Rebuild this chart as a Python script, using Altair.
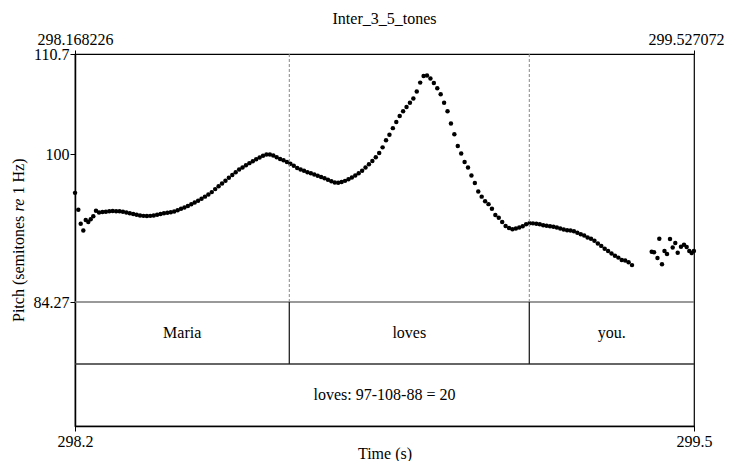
import altair as alt
import pandas as pd

# ------------------------------------------------------------------ data
TITLE = "Inter_3_5_tones"
T_START = 298.168226
T_END = 299.527072
PITCH_TOP = 110.7
PITCH_BOTTOM = 84.27
Y_TICKS = [84.27, 100, 110.7]

# initial (irregular) pitch points
lead_times = [298.1683, 298.1755, 298.1808, 298.1865, 298.1918, 298.1974,
              298.2027, 298.2084, 298.2143]
lead_pitch = [95.9, 94.1, 92.6, 91.9, 93.0, 92.8, 93.1, 93.4, 94.0]

# main voiced stretch
main_times = [
    298.2210, 298.2285, 298.2360, 298.2435, 298.2510, 298.2585, 298.2660, 298.2735, 298.2810, 298.2885,
    298.2960, 298.3035, 298.3110, 298.3185, 298.3260, 298.3335, 298.3410, 298.3485, 298.3560, 298.3635,
    298.3710, 298.3785, 298.3860, 298.3935, 298.4010, 298.4085, 298.4160, 298.4235, 298.4310, 298.4385,
    298.4460, 298.4535, 298.4610, 298.4685, 298.4760, 298.4835, 298.4910, 298.4985, 298.5060, 298.5135,
    298.5210, 298.5285, 298.5360, 298.5435, 298.5510, 298.5585, 298.5660, 298.5735, 298.5810, 298.5885,
    298.5960, 298.6035, 298.6110, 298.6185, 298.6260, 298.6335, 298.6410, 298.6485, 298.6560, 298.6635,
    298.6710, 298.6785, 298.6860, 298.6935, 298.7010, 298.7085, 298.7160, 298.7235, 298.7310, 298.7385,
    298.7460, 298.7535, 298.7610, 298.7685, 298.7760, 298.7835, 298.7910, 298.7985, 298.8060, 298.8135,
    298.8210, 298.8285, 298.8360, 298.8435, 298.8510, 298.8585, 298.8660, 298.8735, 298.8810, 298.8885,
    298.8960, 298.9035, 298.9110, 298.9185, 298.9260, 298.9335, 298.9410, 298.9485, 298.9560, 298.9635,
    298.9710, 298.9785, 298.9860, 298.9935, 299.0010, 299.0085, 299.0160, 299.0235, 299.0310, 299.0385,
    299.0460, 299.0535, 299.0610, 299.0685, 299.0760, 299.0835, 299.0910, 299.0985, 299.1060, 299.1135,
    299.1210, 299.1285, 299.1360, 299.1435, 299.1510, 299.1585, 299.1660, 299.1735, 299.1810, 299.1885,
    299.1960, 299.2035, 299.2110, 299.2185, 299.2260, 299.2335, 299.2410, 299.2485, 299.2560, 299.2635,
    299.2710, 299.2785, 299.2860, 299.2935, 299.3010, 299.3085, 299.3160, 299.3235, 299.3310, 299.3385,
    299.3460, 299.3535, 299.3610, 299.3685, 299.3760, 299.3835, 299.3910,
]
main_pitch = [
    93.8, 93.85, 93.9, 93.95, 93.97, 93.95, 93.93, 93.9, 93.82, 93.74,
    93.66, 93.58, 93.5, 93.45, 93.43, 93.45, 93.5, 93.58, 93.65, 93.72,
    93.78, 93.84, 93.92, 94.05, 94.2, 94.35, 94.5, 94.68, 94.87, 95.05,
    95.28, 95.5, 95.73, 95.98, 96.3, 96.6, 96.9, 97.2, 97.5, 97.8,
    98.1, 98.38, 98.6, 98.85, 99.07, 99.28, 99.48, 99.68, 99.85, 99.98,
    100.0, 99.88, 99.7, 99.52, 99.38, 99.2, 99.0, 98.78, 98.55, 98.4,
    98.25, 98.1, 97.98, 97.85, 97.73, 97.6, 97.45, 97.3, 97.15, 97.0,
    96.98, 97.05, 97.18, 97.35, 97.55, 97.75, 97.98, 98.25, 98.6, 98.95,
    99.3, 99.7, 100.15, 100.75, 101.5, 102.1, 102.8, 103.45, 104.1, 104.6,
    105.05, 105.5, 105.95, 106.7, 107.65, 108.35, 108.4, 108.1, 107.6, 107.05,
    106.4, 105.5, 104.6, 103.3, 102.15, 100.9, 100.1, 99.2, 98.6, 97.75,
    96.95, 96.05, 95.5, 95.0, 94.7, 94.2, 93.55, 93.25, 92.8, 92.37,
    92.15, 92.02, 92.1, 92.22, 92.35, 92.55, 92.66, 92.65, 92.6, 92.55,
    92.45, 92.4, 92.35, 92.29, 92.2, 92.1, 92.0, 91.92, 91.9, 91.8,
    91.65, 91.5, 91.35, 91.15, 91.0, 90.8, 90.5, 90.25, 89.95, 89.7,
    89.45, 89.2, 89.0, 88.75, 88.7, 88.5, 88.2,
]

# scattered final points
tail_times = [299.4342, 299.4393, 299.4469, 299.4509, 299.4568, 299.4623, 299.4678,
              299.4744, 299.4803, 299.4860, 299.4913, 299.4985, 299.5051, 299.5110,
              299.5167, 299.5220, 299.5268]
tail_pitch = [89.63, 89.57, 88.96, 91.02, 88.29, 89.7, 89.38,
              90.98, 90.08, 90.56, 89.51, 90.16, 90.38, 90.13,
              89.7, 89.49, 89.7]

word_labels = ["Maria", "loves", "you."]
word_bounds = [298.168226, 298.63867, 299.16553, 299.527072]
note_label = "loves: 97-108-88 = 20"

# ------------------------------------------------------------------ layout (tiers below the pitch area)
Y_MIN = 71.055
TIER_SPLIT = 77.66
TIER1_TEXT_Y = 80.97
TIER2_TEXT_Y = 74.36
FONT = "Liberation Serif"
FS = 16

pitch_df = pd.DataFrame({
    "time": lead_times + main_times + tail_times,
    "pitch": lead_pitch + main_pitch + tail_pitch,
})
inner_bounds = word_bounds[1:-1]
dash_df = pd.DataFrame({"time": inner_bounds,
                        "y0": [PITCH_BOTTOM] * len(inner_bounds),
                        "y1": [PITCH_TOP] * len(inner_bounds)})
vert_df = pd.DataFrame({"time": inner_bounds,
                        "y0": [TIER_SPLIT] * len(inner_bounds),
                        "y1": [PITCH_BOTTOM] * len(inner_bounds)})
words_df = pd.DataFrame({
    "mid": [(word_bounds[i] + word_bounds[i + 1]) / 2 for i in range(len(word_labels))],
    "label": word_labels,
    "y": [TIER1_TEXT_Y] * len(word_labels),
})
note_df = pd.DataFrame({"mid": [(T_START + T_END) / 2], "label": [note_label], "y": [TIER2_TEXT_Y]})
hline_df = pd.DataFrame({"y": [PITCH_BOTTOM]})
tier_df = pd.DataFrame({"y": [TIER_SPLIT]})
one = pd.DataFrame({"k": [0]})

xs = alt.Scale(domain=[T_START, T_END], nice=False, zero=False)
ys = alt.Scale(domain=[Y_MIN, PITCH_TOP], nice=False, zero=False)

axis_common = dict(grid=False, labelFont=FONT, labelFontSize=FS, labelColor="black",
                   tickColor="black", domainColor="black", labelFlush=False,
                   labelOverlap=False, titleFont=FONT, titleFontSize=FS,
                   titleColor="black", titleFontWeight="normal")

# one shared y axis definition used by every layer with a y field (so they merge)
Y_AXIS = alt.Axis(orient="left", values=Y_TICKS, labelExpr="format(datum.value, '~g')",
                  title=None, tickSize=5, labelPadding=1, domainWidth=1.5, **axis_common)

points = alt.Chart(pitch_df).mark_circle(size=20, color="black", opacity=1).encode(
    x=alt.X("time:Q", scale=xs, axis=alt.Axis(
        orient="bottom", values=[T_START, T_END], labelExpr="format(datum.value, '.1f')",
        title="Time (s)", tickSize=5, labelPadding=2, titlePadding=-4, domainWidth=1.5,
        **axis_common)),
    y=alt.Y("pitch:Q", scale=ys, axis=Y_AXIS),
)

dashed = alt.Chart(dash_df).mark_rule(color="#888888", strokeDash=[3, 2], strokeWidth=1).encode(
    x=alt.X("time:Q", scale=xs, axis=alt.Axis(
        orient="top", values=[T_START, T_END], labelExpr="format(datum.value, '.6f')",
        labelOffset={"condition": {"test": "datum.value > 299", "value": -8}, "value": 0},
        title=None, tickSize=4, labelPadding=3, domain=False, **axis_common)),
    y=alt.Y("y0:Q", scale=ys, axis=Y_AXIS),
    y2="y1:Q",
)

tier_vert = alt.Chart(vert_df).mark_rule(color="#222222", strokeWidth=1.3).encode(
    x=alt.X("time:Q", scale=xs, axis=None),
    y=alt.Y("y0:Q", scale=ys, axis=Y_AXIS),
    y2="y1:Q",
)

pitch_floor = alt.Chart(hline_df).mark_rule(color="#777777", strokeWidth=1.3).encode(
    y=alt.Y("y:Q", scale=ys, axis=Y_AXIS),
)
tier_line = alt.Chart(tier_df).mark_rule(color="#333333", strokeWidth=1.5).encode(
    y=alt.Y("y:Q", scale=ys, axis=Y_AXIS),
)

words = alt.Chart(words_df).mark_text(font=FONT, fontSize=FS, color="black",
                                      align="center", baseline="middle").encode(
    x=alt.X("mid:Q", scale=xs, axis=None),
    y=alt.Y("y:Q", scale=ys, axis=Y_AXIS),
    text="label:N",
)
note = alt.Chart(note_df).mark_text(font=FONT, fontSize=FS, color="black",
                                    align="center", baseline="middle").encode(
    x=alt.X("mid:Q", scale=xs, axis=None),
    y=alt.Y("y:Q", scale=ys, axis=Y_AXIS),
    text="label:N",
)

# y-axis title with italic "re"
yt1 = alt.Chart(one).mark_text(text="Pitch (semitones", font=FONT, fontSize=FS, angle=270,
                               align="left", baseline="middle", color="black").encode(
    x=alt.value(-56), y=alt.value(268))
yt2 = alt.Chart(one).mark_text(text="re", font=FONT, fontSize=FS, angle=270, fontStyle="italic",
                               align="left", baseline="middle", color="black").encode(
    x=alt.value(-56), y=alt.value(157.5))
yt3 = alt.Chart(one).mark_text(text="1 Hz)", font=FONT, fontSize=FS, angle=270,
                               align="left", baseline="middle", color="black").encode(
    x=alt.value(-56), y=alt.value(140.5))

chart = alt.layer(
    points, pitch_floor, tier_line, dashed, tier_vert, words, note, yt1, yt2, yt3
).resolve_axis(x="independent").properties(
    width=619, height=372,
    title=alt.TitleParams(TITLE, font=FONT, fontSize=FS, fontWeight="normal",
                          color="black", anchor="middle", offset=4),
    autosize=alt.AutoSizeParams(type="none"),
    padding={"left": 67, "top": 46, "right": 30, "bottom": 35},
).configure_view(stroke="black", strokeWidth=1.2)

chart.save("out.html", embed_options={"renderer": "svg", "actions": False})
